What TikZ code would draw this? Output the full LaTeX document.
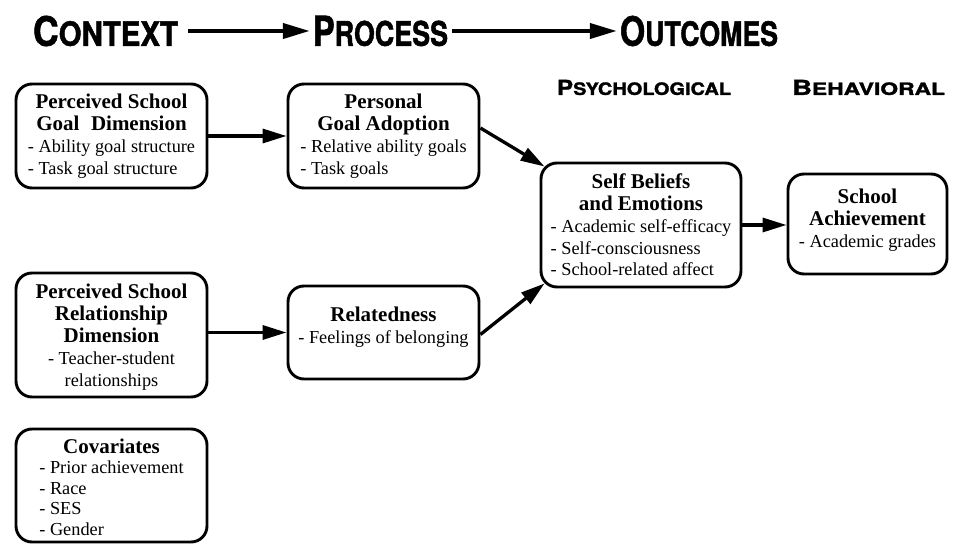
\documentclass[tikz,border=0pt]{standalone}
\usepackage{fontspec}
\setmainfont{Liberation Serif}
\newfontfamily\hdrfont[FakeBold=1.5]{TeX Gyre Heros}
\usetikzlibrary{arrows.meta}
\newcommand{\hdrtext}[2]{{\hdrfont\bfseries\fontsize{40}{40}\selectfont #1\fontsize{33}{33}\selectfont #2}}
\newcommand{\ti}[1]{\multicolumn{1}{@{}c@{}}{\fontsize{21}{22}\selectfont\bfseries #1}}
\newcommand{\ce}[1]{\multicolumn{1}{@{}c@{}}{#1}}
\newcommand{\bx}[2][22]{{\fontsize{18.3}{#1}\selectfont\begin{tabular}{@{}l@{}}#2\end{tabular}}}
\begin{document}
\begin{tikzpicture}[x=1pt,y=-1pt,
  box/.style={draw, line width=2.9pt, rounded corners=16pt, inner sep=0pt},
  txt/.style={inner sep=0pt, anchor=north},
  arr/.style={line width=3.3pt, -{Triangle[length=24pt,width=14pt]}},
  harr/.style={line width=4pt, -{Triangle[length=27pt,width=15pt]}},
  hd/.style={inner sep=0pt}]
\useasboundingbox (0,0) rectangle (954,545);

% headers
\node[hd] (ctx) at (105.5,31) {\resizebox{145pt}{30pt}{\hdrtext{C}{ONTEXT}}};
\node[hd] (prc) at (380.5,31) {\resizebox{135pt}{30pt}{\hdrtext{P}{ROCESS}}};
\node[hd] (out) at (699,31) {\resizebox{158pt}{30pt}{\hdrtext{O}{UTCOMES}}};
\draw[harr] ([xshift=10pt]ctx.east) -- ([xshift=-3pt]prc.west);
\draw[harr] ([xshift=4pt]prc.east) -- ([xshift=-3pt]out.west);
\node[hd] (psy) at (644,87.5) {\resizebox{174pt}{15pt}{\hdrtext{P}{SYCHOLOGICAL}}};
\node[hd] (beh) at (868.5,87.5) {\resizebox{153pt}{15pt}{\hdrtext{B}{EHAVIORAL}}};

% boxes
\node[box, minimum width=191pt, minimum height=104pt] (A) at (111.5,136) {};
\node[box, minimum width=191pt, minimum height=104pt] (B) at (383.5,136) {};
\node[box, minimum width=191pt, minimum height=124pt] (C) at (111.5,335) {};
\node[box, minimum width=191pt, minimum height=93pt] (D) at (383.5,332.5) {};
\node[box, minimum width=191pt, minimum height=113pt] (E) at (111.5,485.5) {};
\node[box, minimum width=200pt, minimum height=124pt] (F) at (641,225) {};
\node[box, minimum width=159pt, minimum height=100pt] (G) at (867.5,224) {};

% texts
\node[txt] (At) at ([yshift=-10.5pt]A.north) {\bx{\ti{Perceived School}\\ \ti{Goal\hspace{0.3em} Dimension}\\ - Ability goal structure\\ - Task goal structure}};
\node[txt] (Bt) at ([yshift=-10.5pt]B.north) {\bx{\ti{Personal}\\ \ti{Goal Adoption}\\ - Relative ability goals\\ - Task goals}};
\node[txt] (Ct) at ([yshift=-11pt]C.north) {\bx{\ti{Perceived School}\\ \ti{Relationship}\\ \ti{Dimension}\\ \ce{- Teacher-student}\\ \ce{relationships}}};
\node[txt] (Dt) at ([yshift=-21pt]D.north) {\bx{\ti{Relatedness}\\ - Feelings of belonging}};
\node[txt] (Et) at ([yshift=-11pt]E.north) {\bx[20.5]{\ti{Covariates}\\ - Prior achievement\\ - Race\\ - SES\\ - Gender}};
\node[txt] (Ft) at ([yshift=-12pt]F.north) {\bx[21.7]{\ti{Self Beliefs}\\ \ti{and Emotions}\\ - Academic self-efficacy\\ - Self-consciousness\\ - School-related affect}};
\node[txt] (Gt) at ([yshift=-15pt]G.north) {\bx{\ti{School}\\ \ti{Achievement}\\ - Academic grades}};

% connectors
\draw[arr] (A.east) -- (B.west);
\draw[arr] (C.east |- D.east) -- (D.west);
\draw[arr] ([yshift=8pt]B.east) -- ([xshift=5pt,yshift=-5pt]F.north west);
\draw[arr] ([yshift=-2pt]D.east) -- ([xshift=5pt,yshift=5pt]F.south west);
\draw[arr] (F.east) -- (F.east -| G.west);
\end{tikzpicture}
\end{document}
